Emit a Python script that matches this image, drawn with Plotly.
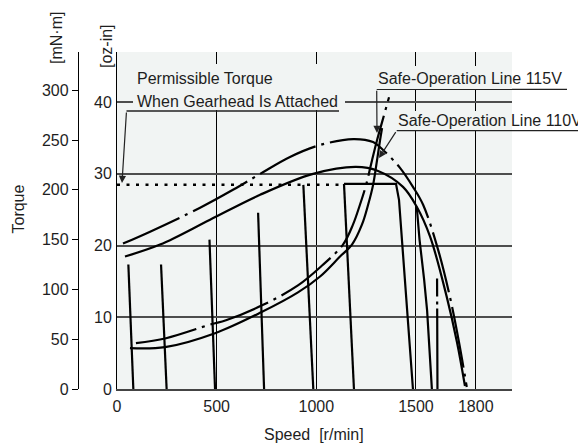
import plotly.graph_objects as go

# ---------------- data (speed in r/min, torque in mN·m) ----------------
x_tickvals = [0, 500, 1000, 1500, 1800]
mn_tickvals = [0, 50, 100, 150, 200, 250, 300]
oz_tickvals = [0, 10, 20, 30, 40]

permissible_speed = [0, 1139]
permissible_torque = [205, 205]

# speed-torque lines at the individual speed settings
line1_speed = [57, 82]
line1_torque = [125, 0]
line2_speed = [221, 249]
line2_torque = [125, 0]
line3_speed = [464, 492]
line3_torque = [150, 0]
line4_speed = [708, 738]
line4_torque = [177, 0]
line5_speed = [935, 985]
line5_torque = [205, 0]
line6_speed = [1139, 1189]
line6_torque = [206, 0]
line7_speed = [1139, 1400, 1415, 1430, 1450, 1470, 1485]
line7_torque = [206, 206, 190, 150, 99, 49, 0]
line8_speed = [1504, 1518, 1541, 1556, 1580]
line8_torque = [183, 150, 110, 79, 0]
line9_speed = [1606, 1608]
line9_torque = [111, 0]

# maximum torque curves
arc115_speed = [30, 166, 417, 582, 718, 868, 1019, 1186, 1285, 1335, 1420, 1485, 1536, 1611, 1671, 1716, 1755]
arc115_torque = [146, 158, 182, 200, 216, 233, 245, 251, 248, 240, 222, 203, 185, 140, 92, 47, 2]
arc110_speed = [40, 216, 467, 718, 984, 1199, 1310, 1435, 1504, 1571, 1654, 1706, 1746]
arc110_torque = [133, 145, 170, 195, 216, 223, 219, 203, 183, 153, 93, 47, 3]

# safe-operation lines
safe115_speed = [95, 246, 472, 547, 728, 908, 1029, 1134, 1184, 1219, 1250, 1280, 1305, 1330, 1365]
safe115_torque = [46, 51, 65, 69, 84, 104, 124, 145, 165, 185, 205, 230, 250, 268, 293]
safe110_speed = [65, 241, 492, 723, 908, 1019, 1119, 1179, 1229, 1260, 1285, 1305, 1320, 1330]
safe110_torque = [41, 42, 56, 77, 97, 113, 133, 145, 165, 185, 205, 230, 250, 262]

# ---------------- layout helpers (screen pixel -> paper) ----------------
OFF = 8                     # page body margin
W, H = 578, 437
ML, MR, MT, MB = 0, 74, 44, 56
PW, PH = W - ML - MR, H - MT - MB


def px(xs):
    return (xs - OFF - ML) / PW


def py(ys):
    return (H - MB - (ys - OFF)) / PH


FONT = "Liberation Sans, Arial, Helvetica, sans-serif"
FS = 16
TXT = "#1e1e1e"
BG = "#f1f4f3"
DASHDOT = "62px,6px,3px,6px"

fig = go.Figure()


def add_line(xs, ys, dash="solid", shape="linear", width=2.2):
    fig.add_trace(go.Scatter(x=xs, y=ys, mode="lines", yaxis="y2",
                             line=dict(color="black", width=width, dash=dash, shape=shape),
                             hoverinfo="skip", showlegend=False))


add_line(permissible_speed, permissible_torque, dash="3px,6.5px", width=2.5)
for xs, ys in [(line1_speed, line1_torque), (line2_speed, line2_torque),
               (line3_speed, line3_torque), (line4_speed, line4_torque),
               (line5_speed, line5_torque), (line6_speed, line6_torque),
               (line7_speed, line7_torque), (line8_speed, line8_torque)]:
    add_line(xs, ys)
add_line(line9_speed, line9_torque, dash="18px,5px,3px,4px,90px")
add_line(arc115_speed, arc115_torque, dash=DASHDOT, shape="spline")
add_line(arc110_speed, arc110_torque, shape="spline")
add_line(safe115_speed, safe115_torque, dash=DASHDOT, shape="spline")
add_line(safe110_speed, safe110_torque, shape="spline")

shapes = []
# underlines of the callouts
for x0, x1, yy in [(126.5, 339, 111), (376.7, 567, 89.3), (396.7, 586, 130.7)]:
    shapes.append(dict(type="line", xref="paper", yref="paper", x0=px(x0), x1=px(x1),
                       y0=py(yy), y1=py(yy), line=dict(color="#222", width=1.3), layer="above"))

annotations = []
# background boxes hiding the gridlines behind the callout texts
for x0, y0, x1, y1 in [(133, 64, 345, 110), (374, 66, 512, 88.5), (394, 111, 512, 130)]:
    annotations.append(dict(xref="paper", yref="paper", x=px(x0), y=py(y0), text="\u00a0",
                            xanchor="left", yanchor="top", width=x1 - x0, height=y1 - y0,
                            bgcolor=BG, borderpad=0, borderwidth=0, showarrow=False,
                            font=dict(family=FONT, size=8, color=BG)))
# arrows
for (tx, ty), (hx, hy) in [((126.5, 111), (122, 183)), ((376.7, 89.3), (377, 133)),
                           ((396.7, 130.7), (379, 158))]:
    annotations.append(dict(xref="paper", yref="paper", x=px(hx), y=py(hy), text="",
                            showarrow=True, ax=tx - hx, ay=ty - hy, arrowhead=2,
                            arrowsize=1.2, arrowwidth=1.2, arrowcolor="#222", standoff=0))
# callout texts
for text, xl, yc in [("Permissible Torque", 136, 78.7), ("When Gearhead Is Attached", 136, 101),
                     ("Safe-Operation Line 115V", 376.7, 78.4), ("Safe-Operation Line 110V", 396.7, 121)]:
    annotations.append(dict(xref="paper", yref="paper", x=px(xl), y=py(yc), text=text,
                            showarrow=False, xanchor="left", yanchor="middle", borderpad=0,
                            font=dict(family=FONT, size=FS, color=TXT)))
# axis titles
for text, xc, yc, ang in [("Torque", 17.5, 209, -90), ("[mN·m]", 57, 38, -90),
                          ("[oz-in]", 106, 46, -90), ("Speed\u00a0\u00a0[r/min]", 314, 434, 0)]:
    annotations.append(dict(xref="paper", yref="paper", x=px(xc), y=py(yc), text=text,
                            textangle=ang, xanchor="center", yanchor="middle", showarrow=False,
                            font=dict(family=FONT, size=FS, color=TXT)))
# oz-in tick labels, placed on the oz-in axis scale
for v in oz_tickvals:
    annotations.append(dict(xref="paper", yref="y", x=px(113), y=v, text=str(v),
                            xanchor="right", yanchor="middle", showarrow=False, borderpad=0,
                            font=dict(family=FONT, size=FS, color=TXT)))

tickfont = dict(family=FONT, size=FS, color=TXT)
fig.update_layout(
    width=W, height=H, margin=dict(l=ML, r=MR, t=MT, b=MB, autoexpand=False),
    paper_bgcolor="white", plot_bgcolor=BG, showlegend=False,
    xaxis=dict(domain=[px(117), 1], range=[0, 1982], tickvals=x_tickvals,
               showgrid=True, gridcolor="black", gridwidth=1.2, zeroline=False,
               showline=True, linecolor="#444", linewidth=1.6, ticks="",
               ticklabelstandoff=2, tickfont=tickfont),
    # oz-in grid
    yaxis=dict(range=[0, 47.0], tickvals=oz_tickvals, showgrid=True, gridcolor="#4d4d4d",
               gridwidth=1.8, zeroline=False, showline=True, linecolor="black", linewidth=1.3,
               ticks="", showticklabels=False),
    # mN·m axis (outer)
    yaxis2=dict(range=[0, 338.4], tickvals=mn_tickvals, overlaying="y", anchor="free",
                position=px(78), side="left", showgrid=False, zeroline=False, showline=True,
                linecolor="black", linewidth=1.3, ticks="outside", ticklen=6, tickwidth=1.3,
                tickcolor="black", tickfont=tickfont),
    shapes=shapes, annotations=annotations,
)

fig.write_html("out.html")
